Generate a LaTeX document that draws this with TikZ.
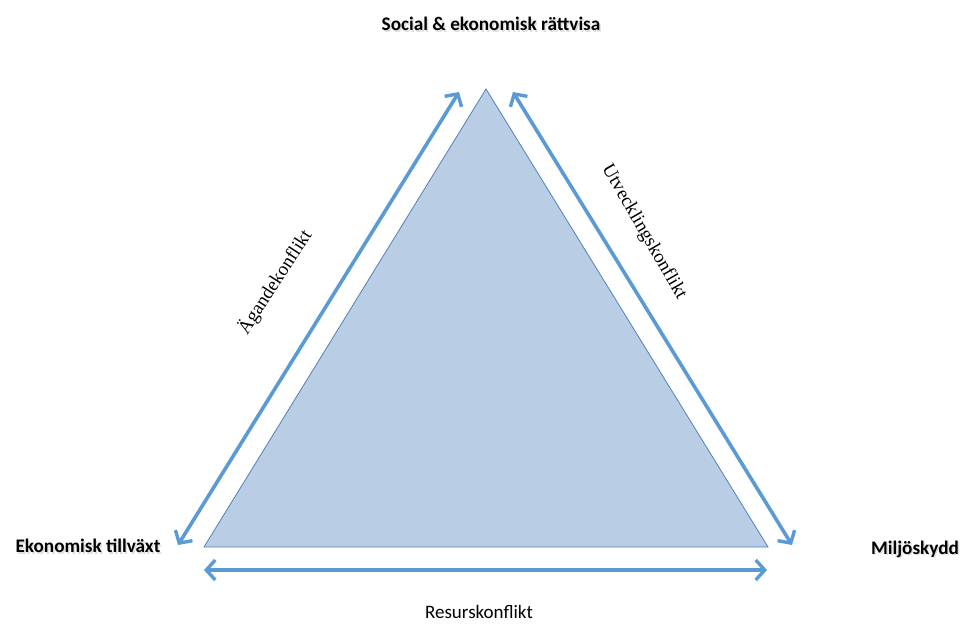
\documentclass[tikz,border=0pt]{standalone}
\usepackage{fontspec}
\setmainfont{Carlito}
\newfontfamily\serifrot{Liberation Serif}
\usetikzlibrary{arrows.meta}
\definecolor{arrowblue}{HTML}{5B9BD5}
\definecolor{trifill}{HTML}{B9CDE5}
\definecolor{triline}{HTML}{4F81BD}
\tikzset{
  conflictarrow/.style={draw=arrowblue, line width=3.6pt,
    {Straight Barb[length=9pt,width=20pt,line width=3.4pt]}-{Straight Barb[length=9pt,width=20pt,line width=3.4pt]}},
  cornerlabel/.style={font=\fontsize{19.2}{22}\selectfont\bfseries, text=black, inner sep=0pt},
  shadowlabel/.style={font=\fontsize{19.2}{22}\selectfont\bfseries, text=black!25, opacity=0.5, inner sep=0pt},
  sidelabel/.style={font=\serifrot\fontsize{19}{22}\selectfont, inner sep=0pt},
  baselabel/.style={font=\fontsize{19}{22}\selectfont, inner sep=0pt}
}
\begin{document}
\begin{tikzpicture}[x=1pt,y=-1pt]
\useasboundingbox (0,0) rectangle (972,632);
% triangle
\coordinate (apex) at (486,89);
\coordinate (bl) at (204,547);
\coordinate (br) at (768,547);
\draw[fill=trifill, draw=triline, line width=0.8pt] (apex) -- (bl) -- (br) -- cycle;
% arrow end points
\coordinate (la) at (178,545);
\coordinate (lb) at (459,92);
\coordinate (ra) at (513,92);
\coordinate (rb) at (792,545);
\coordinate (ba) at (204,570);
\coordinate (bb) at (767,570);
\draw[conflictarrow] (la) -- (lb);
\draw[conflictarrow] (ra) -- (rb);
\draw[conflictarrow] (ba) -- (bb);
% corner labels with shadow
\node[shadowlabel] at (492.5,25.5) {Social \& ekonomisk rättvisa};
\node[cornerlabel] (top) at (491,24) {Social \& ekonomisk rättvisa};
\node[shadowlabel] at (89.5,547.5) {Ekonomisk tillväxt};
\node[cornerlabel] (left) at (88,546) {Ekonomisk tillväxt};
\node[shadowlabel] at (916.5,550.5) {Miljöskydd};
\node[cornerlabel] (right) at (915,549) {Miljöskydd};
% side labels
\node[sidelabel, rotate=57] (own) at (275,282) {Ägandekonflikt};
\node[sidelabel, rotate=-60] (dev) at (644,232) {Utvecklingskonflikt};
\node[baselabel] (res) at (479,612) {Resurskonflikt};
\end{tikzpicture}
\end{document}
